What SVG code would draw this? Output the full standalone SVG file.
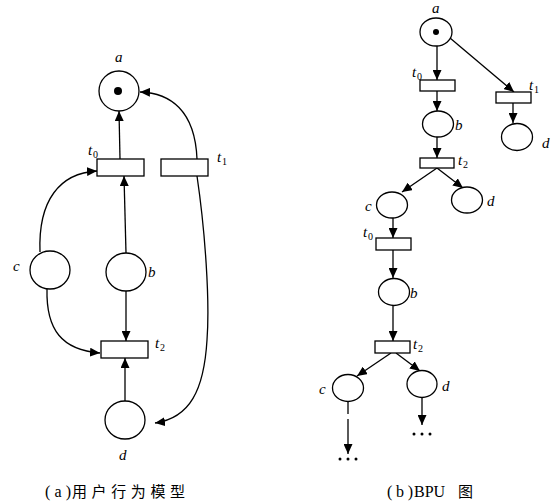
<svg xmlns="http://www.w3.org/2000/svg" width="556" height="504" viewBox="0 0 556 504">
<style>
.pl{fill:#fff;stroke:#000;stroke-width:1.3}
.tr{fill:#fff;stroke:#000;stroke-width:1.3}
.ln{fill:none;stroke:#000;stroke-width:1.3}
.ar{marker-end:url(#ah)}
.lb{font-family:"Liberation Serif",serif;font-style:italic;font-size:15px;fill:#000}
.sb{font-family:"Liberation Serif",serif;font-size:10px;fill:#000}
.cap{font-family:"Liberation Serif","Noto Sans CJK SC",serif;font-size:16px;fill:#000}
.cjk{font-family:"Noto Sans CJK SC",sans-serif;font-size:15px;fill:#000}
</style>
<defs>
<marker id="ah" viewBox="0 0 10 9" refX="10" refY="4.5" markerWidth="10" markerHeight="9" markerUnits="userSpaceOnUse" orient="auto">
<path d="M0,0 L10,4.5 L0,9 z" fill="#000"/>
</marker>
</defs>

<g id="connectors">
<!-- left diagram -->
<path class="ln ar" d="M120,159 L119,111"/>
<path class="ln ar" d="M126,253 L124,176"/>
<path class="ln ar" d="M40,252 C38,200 60,173 97,171"/>
<path class="ln ar" d="M197,159 C195,110 170,93 140,92"/>
<path class="ln ar" d="M197,176 C205,230 210,300 207,340 C204,390 190,418 155,423"/>
<path class="ln ar" d="M47,289 C46,330 62,350 100,353"/>
<path class="ln ar" d="M126,291 L126,341"/>
<path class="ln ar" d="M125,401 L125,358"/>
<!-- right diagram -->
<path class="ln ar" d="M437,46 L437,80"/>
<path class="ln ar" d="M450,38 L514,92"/>
<path class="ln ar" d="M437,91 L437,111"/>
<path class="ln ar" d="M513,103 L513,123"/>
<path class="ln ar" d="M437,137 L437,158"/>
<path class="ln ar" d="M437,168 L402,192"/>
<path class="ln ar" d="M437,168 L463,188"/>
<path class="ln ar" d="M393,218 L393,238"/>
<path class="ln ar" d="M393,250 L393,278"/>
<path class="ln ar" d="M393,306 L393,341"/>
<path class="ln ar" d="M391,353 L357,376"/>
<path class="ln ar" d="M396,353 L420,371"/>
<path class="ln" d="M348,402 L348,414"/>
<path class="ln ar" d="M348,419 L348,454"/>
<path class="ln ar" d="M422,398 L422,425"/>
</g>

<!-- left diagram nodes -->
<g id="L_a">
<circle class="pl" cx="119" cy="91" r="20"/>
<circle cx="118" cy="91" r="4" fill="#000"/>
<text class="lb" x="115" y="62">a</text>
</g>
<g id="L_t0">
<rect class="tr" x="97" y="159" width="47" height="17"/>
<text class="lb" x="88" y="155">t</text><text class="sb" x="93" y="158">0</text>
</g>
<g id="L_t1">
<rect class="tr" x="161" y="159" width="47" height="17"/>
<text class="lb" x="217" y="162">t</text><text class="sb" x="222" y="165">1</text>
</g>
<g id="L_t2">
<rect class="tr" x="101" y="341" width="47" height="17"/>
<text class="lb" x="155" y="348">t</text><text class="sb" x="160" y="351">2</text>
</g>
<g id="L_b">
<ellipse class="pl" cx="126" cy="272" rx="20" ry="19"/>
<text class="lb" x="148" y="277">b</text>
</g>
<g id="L_c">
<ellipse class="pl" cx="50" cy="270" rx="20" ry="19"/>
<text class="lb" x="13" y="271">c</text>
</g>
<g id="L_d">
<ellipse class="pl" cx="125" cy="420" rx="20" ry="19"/>
<text class="lb" x="119" y="460">d</text>
</g>

<!-- right diagram nodes -->
<g id="R_a">
<ellipse class="pl" cx="436" cy="32" rx="16" ry="14"/>
<circle cx="436" cy="32" r="3" fill="#000"/>
<text class="lb" x="432" y="13">a</text>
</g>
<g id="R_t0">
<rect class="tr" x="420" y="80" width="35" height="11"/>
<text class="lb" x="412" y="77">t</text><text class="sb" x="417" y="80">0</text>
</g>
<g id="R_t1">
<rect class="tr" x="496" y="92" width="35" height="11"/>
<text class="lb" x="529" y="90">t</text><text class="sb" x="534" y="93">1</text>
</g>
<g id="R_d1">
<ellipse class="pl" cx="517" cy="137" rx="15.5" ry="13.5"/>
<text class="lb" x="542" y="148">d</text>
</g>
<g id="R_b1">
<ellipse class="pl" cx="438" cy="124" rx="15.5" ry="13"/>
<text class="lb" x="455" y="130">b</text>
</g>
<g id="R_t2a">
<rect class="tr" x="420" y="158" width="34" height="10"/>
<text class="lb" x="458" y="165">t</text><text class="sb" x="463" y="168">2</text>
</g>
<g id="R_c1">
<ellipse class="pl" cx="392" cy="205" rx="15.5" ry="13"/>
<text class="lb" x="365" y="211">c</text>
</g>
<g id="R_d2">
<ellipse class="pl" cx="467" cy="200" rx="15.5" ry="13"/>
<text class="lb" x="487" y="206">d</text>
</g>
<g id="R_t0b">
<rect class="tr" x="376" y="238" width="35" height="12"/>
<text class="lb" x="363" y="237">t</text><text class="sb" x="368" y="240">0</text>
</g>
<g id="R_b2">
<ellipse class="pl" cx="394" cy="292" rx="15.5" ry="13.5"/>
<text class="lb" x="410" y="298">b</text>
</g>
<g id="R_t2b">
<rect class="tr" x="375" y="341" width="35" height="12"/>
<text class="lb" x="413" y="349">t</text><text class="sb" x="418" y="352">2</text>
</g>
<g id="R_c2">
<ellipse class="pl" cx="348" cy="388" rx="15.5" ry="13.5"/>
<text class="lb" x="319" y="394">c</text>
</g>
<g id="R_d3">
<ellipse class="pl" cx="422" cy="384" rx="15" ry="13.5"/>
<text class="lb" x="442" y="391">d</text>
</g>
<g id="R_dots1">
<circle cx="340" cy="459" r="1.5"/><circle cx="348" cy="459" r="1.5"/><circle cx="356" cy="459" r="1.5"/>
</g>
<g id="R_dots2">
<circle cx="414" cy="434" r="1.5"/><circle cx="422" cy="434" r="1.5"/><circle cx="430" cy="434" r="1.5"/>
</g>

<g id="captions">
<text class="cap" x="45" y="497"><tspan textLength="26" lengthAdjust="spacing">(a)</tspan><tspan class="cjk" x="72" textLength="113" lengthAdjust="spacing">用户行为模型</tspan></text>
<text class="cap" x="387" y="497"><tspan textLength="26" lengthAdjust="spacing">(b)</tspan><tspan x="414">BPU</tspan><tspan class="cjk" x="458">图</tspan></text>
</g>
</svg>
